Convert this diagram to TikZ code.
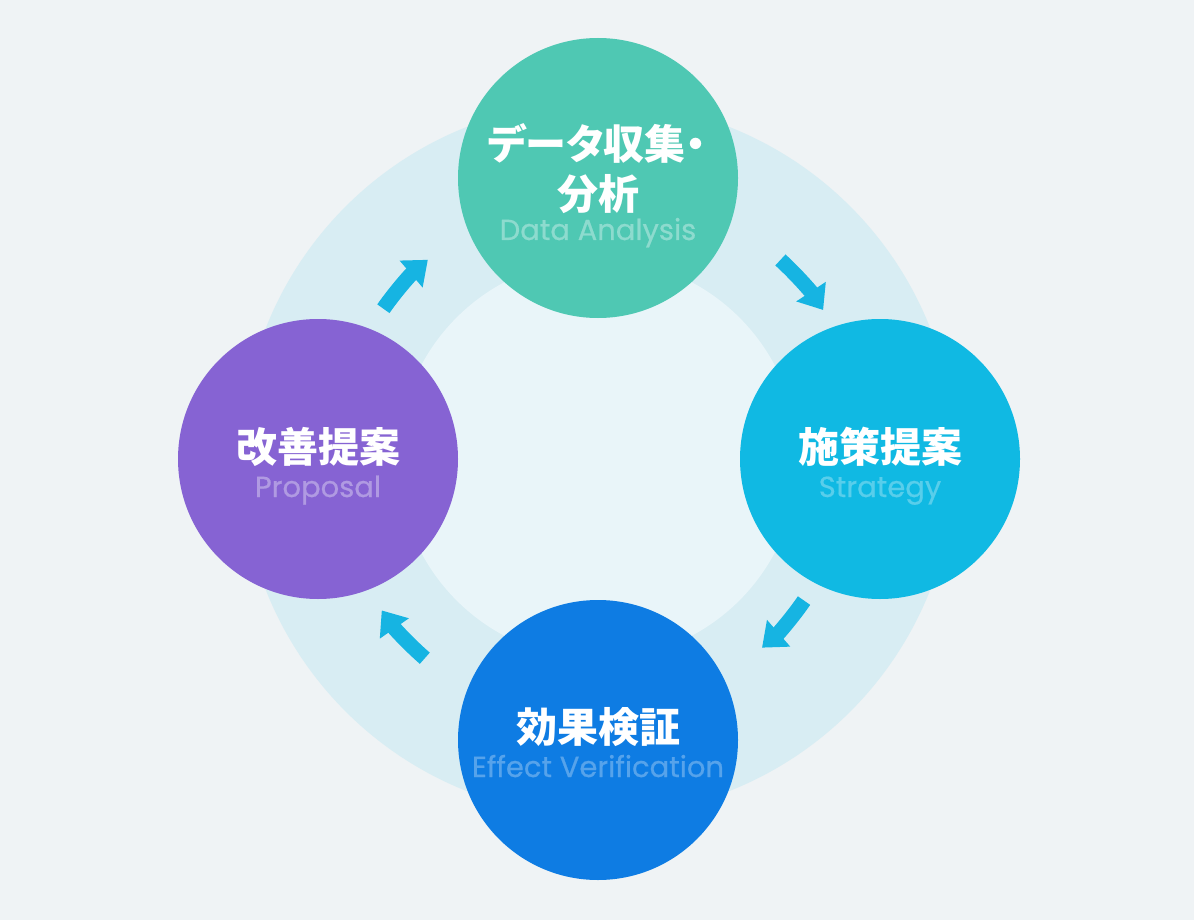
\documentclass[tikz,border=0pt]{standalone}
\usepackage{fontspec}
\usetikzlibrary{arrows.meta}
\newfontfamily\jpfont{Noto Sans CJK JP}
\newfontfamily\subfont{Poppins}[FakeBold=0.7]
\definecolor{bgc}{HTML}{EFF3F5}
\definecolor{ringc}{HTML}{D8EDF3}
\definecolor{innerc}{HTML}{E9F5F9}
\definecolor{tealc}{HTML}{4FC8B3}
\definecolor{cyanc}{HTML}{10B9E3}
\definecolor{bluec}{HTML}{0E7CE3}
\definecolor{purplec}{HTML}{8663D3}
\definecolor{arrc}{HTML}{16B4E2}
\tikzset{
  stage/.style={circle, minimum size=280pt, inner sep=0pt, draw=none},
  title/.style={inner sep=0pt, text=white, font=\jpfont\bfseries\fontsize{41}{49}\selectfont},
  sub/.style={inner sep=0pt, anchor=base, font=\subfont\fontsize{29}{34}\selectfont},
  cyc/.style={line width=15pt, arrc, -{Triangle[length=22pt,width=34pt]}},
}
\begin{document}
\begin{tikzpicture}[x=1pt,y=1pt]
\fill[bgc] (0,0) rectangle (1194,-920);
\useasboundingbox (0,0) rectangle (1194,-920);
\coordinate (C) at (598,-459);
\fill[ringc] (C) circle[radius=357];
\fill[innerc] (C) circle[radius=200];

% stages
\node[stage, fill=tealc]   (data)     at (598,-178) {};
\node[stage, fill=cyanc]   (strategy) at (880,-459) {};
\node[stage, fill=bluec]   (effect)   at (598,-740) {};
\node[stage, fill=purplec] (proposal) at (318,-459) {};

% texts
\node[title] (t1a) at (597,-143) {\addfontfeatures{RawFeature=+palt}データ収集・};
\node[title] (t1b) at (598,-194) {分析};
\node[sub, text=white!35!tealc] (s1) at (598,-240) {Data Analysis};

\node[title] (t2) at (880,-447) {施策提案};
\node[sub, text=white!30!cyanc] (s2) at (880,-497) {Strategy};

\node[title] (t3) at (598,-727) {効果検証};
\node[sub, text=white!30!bluec] (s3) at (598,-777) {Effect Verification};

\node[title] (t4) at (318,-447) {改善提案};
\node[sub, text=white!35!purplec] (s4) at (318,-497) {Proposal};

% cycle arrows
\coordinate (a1) at ([shift={(C)}]145:262);
\coordinate (a2) at ([shift={(C)}]47.5:270);
\coordinate (a3) at ([shift={(C)}]-34.5:250);
\coordinate (a4) at ([shift={(C)}]229:264);
\draw[cyc] (a1) arc[start angle=145, end angle=130.5, radius=262];
\draw[cyc] (a2) arc[start angle=47.5, end angle=33.5, radius=270];
\draw[cyc] (a3) arc[start angle=-34.5, end angle=-49, radius=250];
\draw[cyc] (a4) arc[start angle=229, end angle=215, radius=264];
\end{tikzpicture}
\end{document}
